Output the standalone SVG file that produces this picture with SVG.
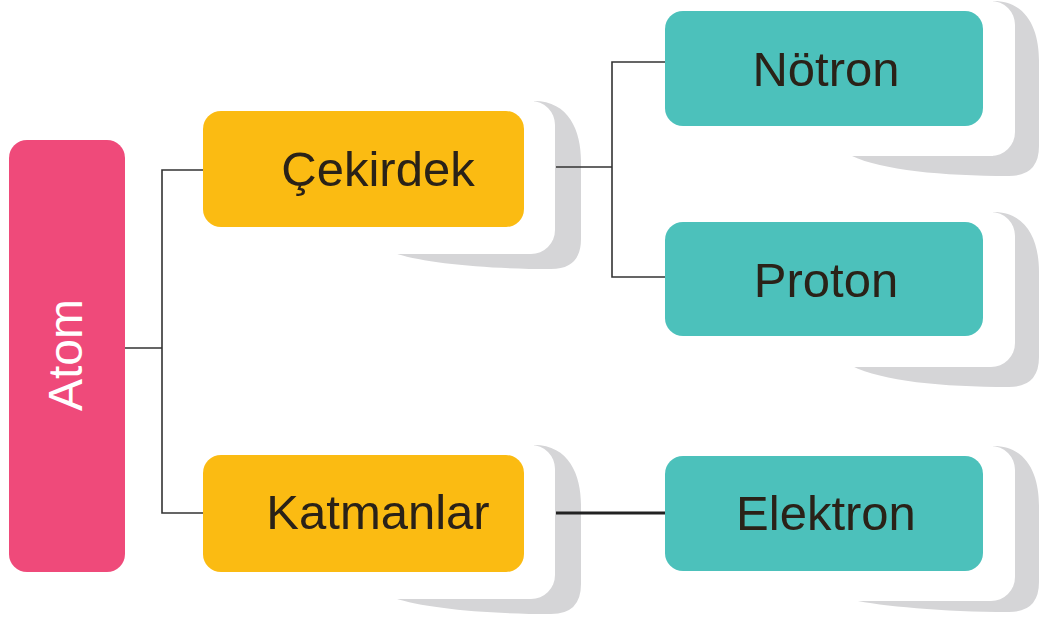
<svg xmlns="http://www.w3.org/2000/svg" width="1040" height="625" viewBox="0 0 1040 625">
<style>
.shadow{fill:#d5d5d7}
.card{fill:#ffffff}
.atom{fill:#ef4a7a}
.mid{fill:#fbbb12}
.leaf{fill:#4cc1bb}
.lbl{font-family:"Liberation Sans",Arial,sans-serif;font-size:49px;fill:#2a2218;text-anchor:middle}
.lblw{font-family:"Liberation Sans",Arial,sans-serif;font-size:48px;fill:#ffffff;text-anchor:middle}
.conn{fill:none;stroke:#333333;stroke-width:1.6}
.thick{fill:none;stroke:#222222;stroke-width:3}
</style>
<rect width="1040" height="625" fill="#ffffff"/>
<g id="node-atom">
<rect class="atom" x="9" y="140" width="116" height="432" rx="18"/>
<text class="lblw" transform="translate(82,355) rotate(-90)">Atom</text>
</g>
<g id="node-cekirdek">
<path class="shadow" d="M534,101 C569,101 581,131 581,161 L581,239 Q581,269 551,269 C484,269 424,263 394,253 L534,253 Z"/>
<rect class="card" x="193" y="101" width="362" height="153" rx="24"/>
<rect class="mid" x="203" y="111" width="321" height="116" rx="18"/>
<text class="lbl" x="378" y="186">Çekirdek</text>
</g>
<g id="node-katmanlar">
<path class="shadow" d="M534,445 C569,445 581,475 581,505 L581,584 Q581,614 551,614 C484,614 424,608 394,598 L534,598 Z"/>
<rect class="card" x="193" y="445" width="362" height="154" rx="24"/>
<rect class="mid" x="203" y="455" width="321" height="117" rx="18"/>
<text class="lbl" x="378" y="529">Katmanlar</text>
</g>
<g id="node-notron">
<path class="shadow" d="M993,1 C1028,1 1039,31 1039,61 L1039,146 Q1039,176 1009,176 C942,176 882,170 852,156 L993,156 Z"/>
<rect class="card" x="655" y="1" width="360" height="155" rx="24"/>
<rect class="leaf" x="665" y="11" width="318" height="115" rx="18"/>
<text class="lbl" x="826" y="86">Nötron</text>
</g>
<g id="node-proton">
<path class="shadow" d="M993,212 C1028,212 1039,242 1039,272 L1039,357 Q1039,387 1009,387 C942,387 882,381 852,366 L993,366 Z"/>
<rect class="card" x="655" y="212" width="360" height="155" rx="24"/>
<rect class="leaf" x="665" y="222" width="318" height="114" rx="18"/>
<text class="lbl" x="826" y="297">Proton</text>
</g>
<g id="node-elektron">
<path class="shadow" d="M993,446 C1028,446 1039,476 1039,506 L1039,582 Q1039,612 1009,612 C942,612 882,606 852,600 L993,600 Z"/>
<rect class="card" x="655" y="446" width="360" height="155" rx="24"/>
<rect class="leaf" x="665" y="456" width="318" height="115" rx="18"/>
<text class="lbl" x="826" y="530">Elektron</text>
</g>
<g id="connectors">
<path class="conn" d="M125,348 H162 M203,170 H162 V513 H203"/>
<path class="conn" d="M556,167 H612 M665,62 H612 V277 H665"/>
<path class="thick" d="M556,513 H665"/>
</g>
</svg>
